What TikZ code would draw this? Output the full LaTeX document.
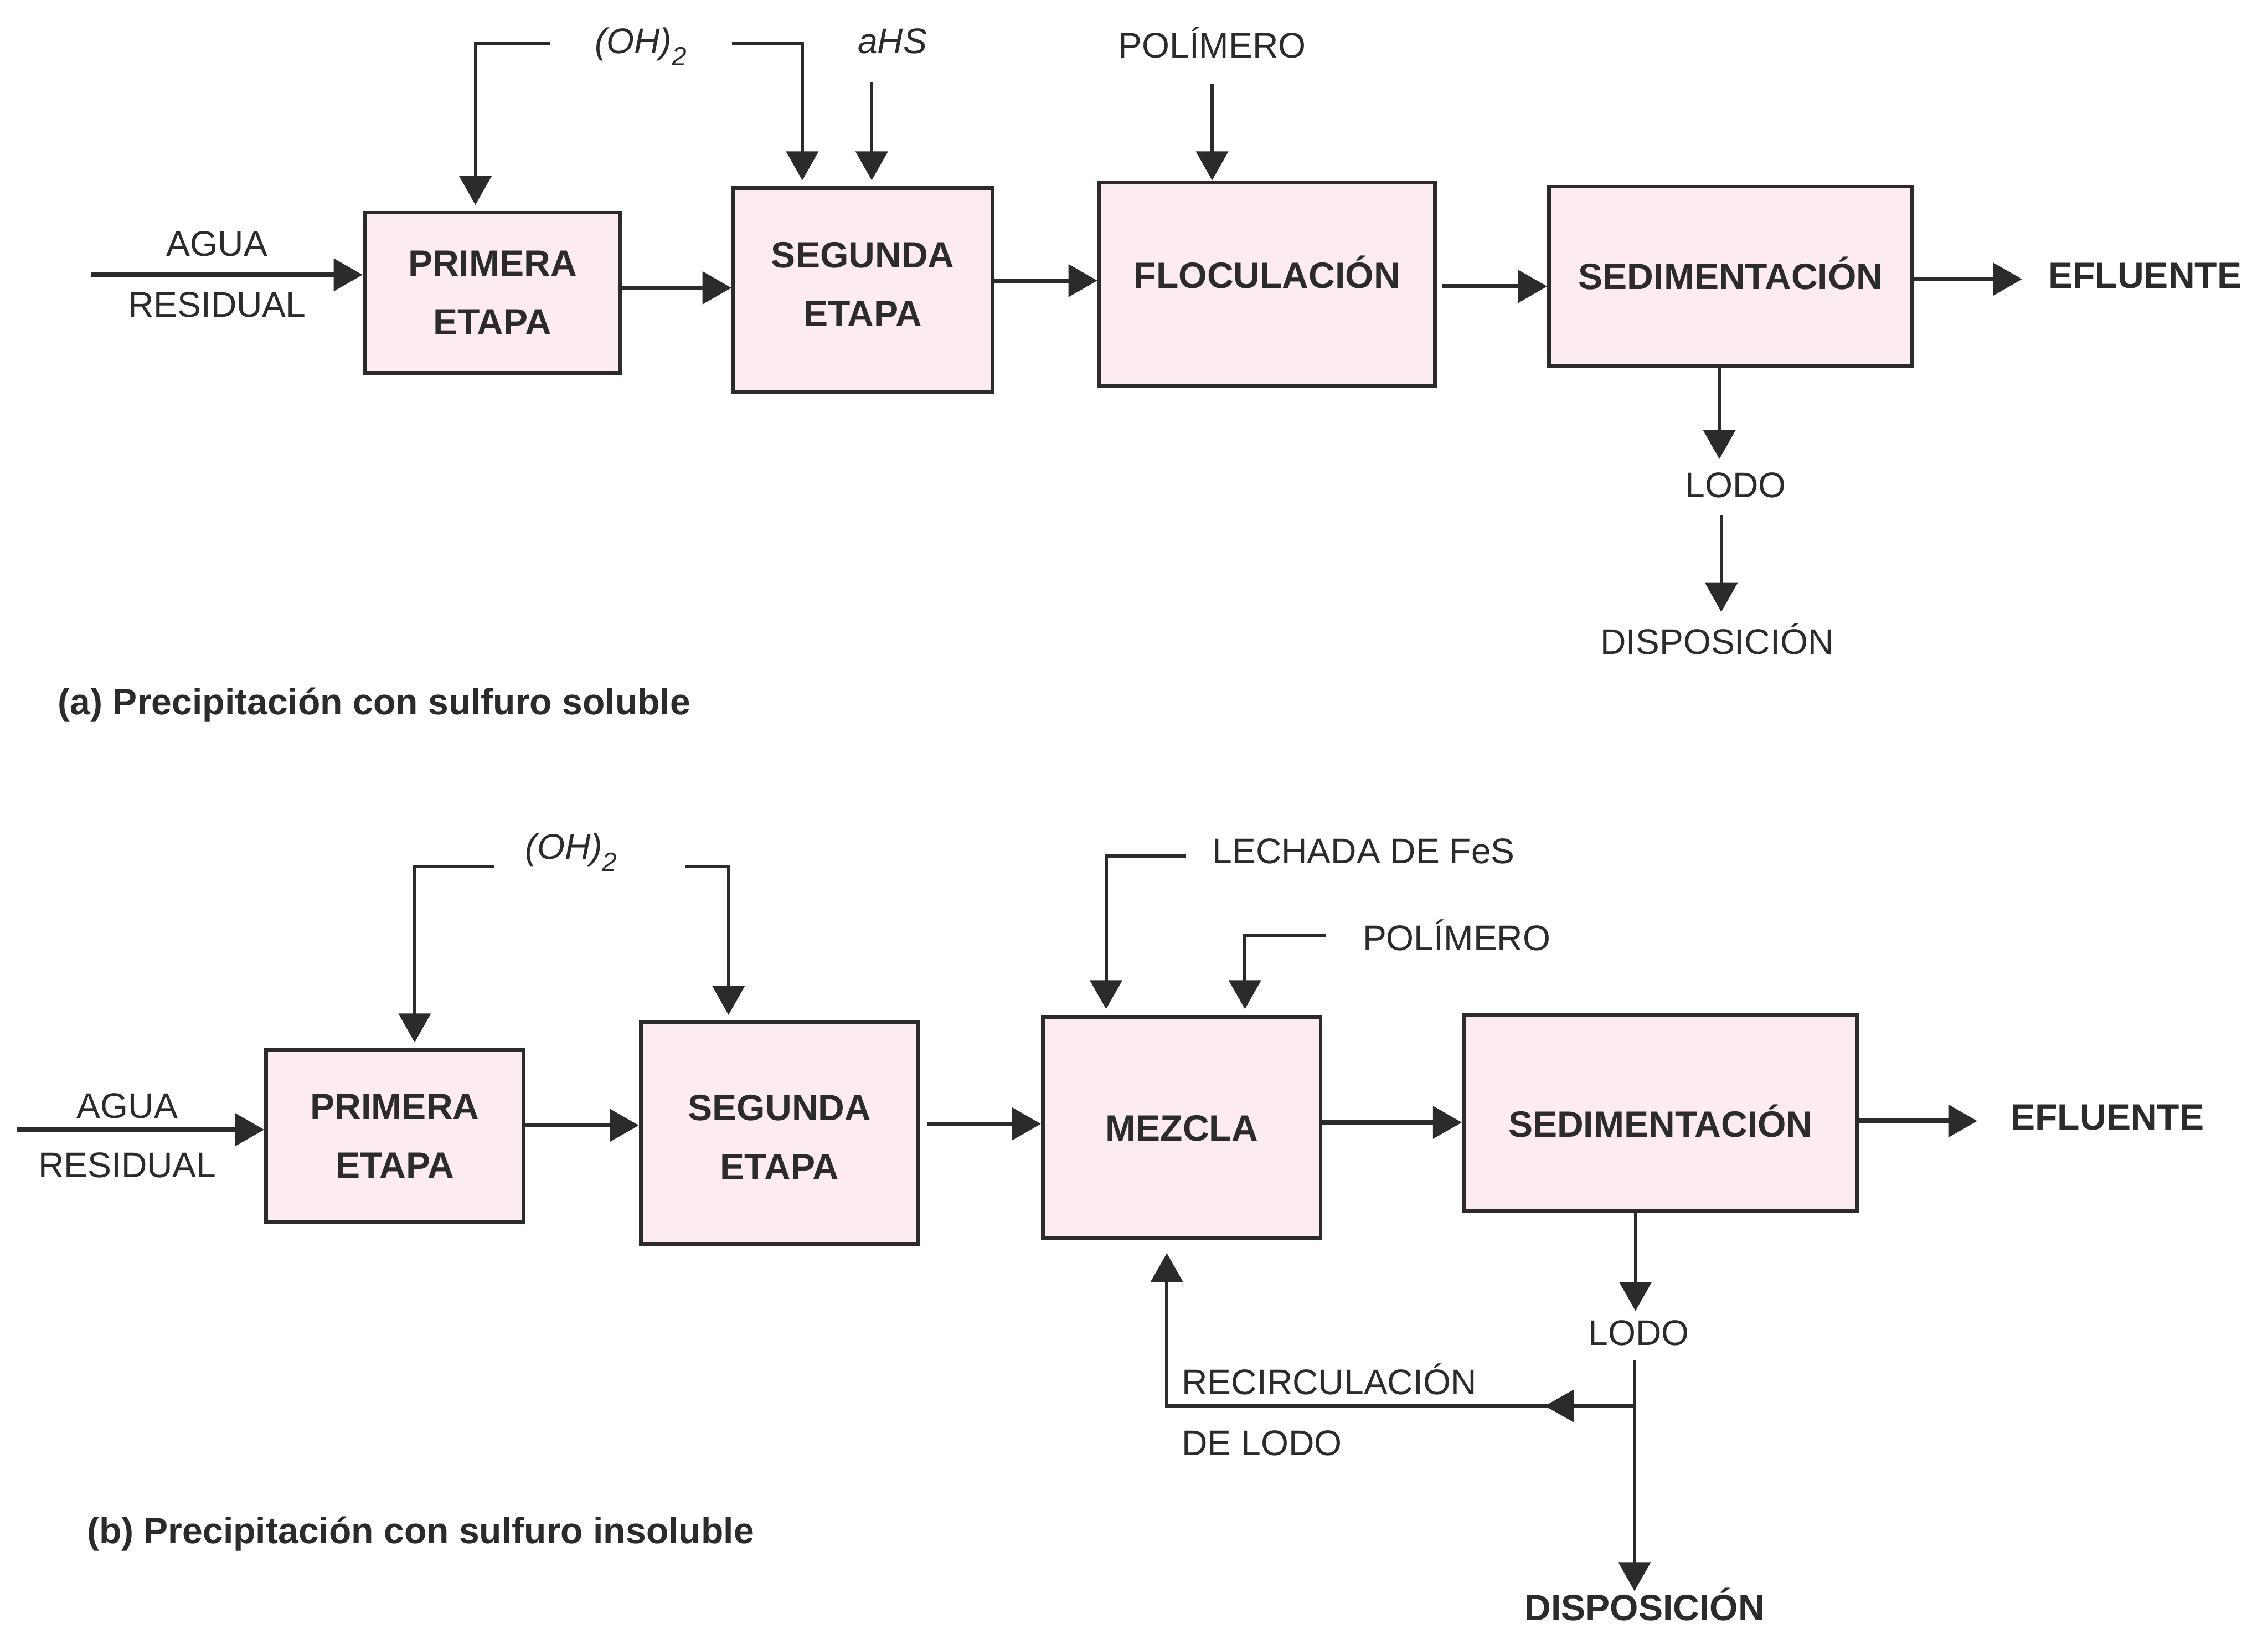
\documentclass[tikz,border=0pt]{standalone}
\usepackage{fontspec}
\setmainfont{Liberation Sans}
\usetikzlibrary{arrows.meta,calc}
\definecolor{ink}{HTML}{2B2B2B}
\definecolor{boxfill}{HTML}{FCECEF}

\begin{document}
\begin{tikzpicture}[x=0.05cm,y=-0.05cm,
  proc/.style={draw=ink, fill=boxfill, line width=3.8pt, inner sep=0pt, text=ink,
    align=center, font=\fontsize{36pt}{58pt}\selectfont\bfseries},
  oneline/.style={text height=0.91cm, text depth=0pt},
  lbl/.style={text=ink, inner sep=0pt, oneline, font=\fontsize{35pt}{42pt}\selectfont},
  blbl/.style={lbl, font=\fontsize{36pt}{42pt}\selectfont\bfseries},
  tip/.style={-{Triangle[length=1cm,width=1.1cm]}},
  flow/.style={draw=ink, line width=4.4pt, tip},
  feed/.style={draw=ink, line width=3.3pt, tip},
]
\fill[white] (0,0) rectangle (1568,1126);
\useasboundingbox (0,0) rectangle (1568,1126);

% ---------- (a) soluble sulphide ----------
\node[proc, minimum width=8.85cm, minimum height=5.55cm] (p1) at (340.5,202.5) {PRIMERA\\ETAPA};
\node[proc, text depth=0.4cm, minimum width=8.95cm, minimum height=7.05cm] (s1) at (596.5,200.5) {SEGUNDA\\ETAPA};
\node[proc, oneline, text depth=0.65cm, minimum width=11.6cm, minimum height=7.05cm] (f1) at (876,196.5) {FLOCULACIÓN};
\node[proc, oneline, minimum width=12.55cm, minimum height=6.2cm] (d1) at (1196.5,191) {SEDIMENTACIÓN};

\node[lbl] (ag1) at (150,168) {AGUA};
\node[lbl] (rs1) at (150,210) {RESIDUAL};
\node[blbl, anchor=west] (ef1) at (1416,190) {EFLUENTE};
\node[lbl, anchor=west] (oh1) at (411,28) {\itshape (OH)\raisebox{-0.42cm}{\fontsize{26pt}{26pt}\selectfont 2}};
\node[lbl] (ahs) at (617,28) {\itshape aHS};
\node[lbl] (pol1) at (838,31) {POLÍMERO};
\node[lbl] (lodo1) at (1200,335) {LODO};
\node[lbl] (disp1) at (1187,443) {DISPOSICIÓN};
\node[blbl, anchor=west] (capa) at (40,485) {(a) Precipitación con sulfuro soluble};

\coordinate (in1) at (63,190);
\draw[flow] (in1) -- (in1 -| p1.west);
\draw[flow] ($(p1.east)+(0,-3.5)$) coordinate (q1) -- (q1 -| s1.west);
\draw[flow] ($(s1.east)+(0,-6.5)$) coordinate (q2) -- (q2 -| f1.west);
\draw[flow] ($(f1.east)+(4,1.5)$) coordinate (q3) -- (q3 -| d1.west);
\draw[flow] ($(d1.east)+(0,2)$) coordinate (q4) -- ($(q4 -| ef1.west)+(-18,0)$);

\draw[feed, shorten >=0.2cm] ($(oh1.west)+(-31,2)$) -| ($(p1.north west)+(78,0)$);
\draw[feed, shorten >=0.2cm] ($(oh1.west)+(95,2)$) -| ($(s1.north west)+(49,0)$);
\draw[feed, shorten >=0.2cm] ($(s1.north west)+(97,-72)$) -- ($(s1.north west)+(97,0)$);
\draw[feed] ($(pol1)+(0,27)$) -- (pol1 |- f1.north);
\draw[feed] ($(d1.south west)+(119,0)$) -- ($(d1.south west)+(119,63)$);
\draw[feed] ($(lodo1)+(-10,21)$) -- ($(lodo1)+(-10,88)$);

% ---------- (b) insoluble sulphide ----------
\node[proc, minimum width=8.9cm, minimum height=5.95cm] (p2) at (273,785.5) {PRIMERA\\ETAPA};
\node[proc, text height=3.2cm, minimum width=9.6cm, minimum height=7.65cm] (s2) at (539,783.5) {SEGUNDA\\ETAPA};
\node[proc, oneline, minimum width=9.6cm, minimum height=7.65cm] (m2) at (817,779.5) {MEZCLA};
\node[proc, oneline, text height=1.66cm, minimum width=13.6cm, minimum height=6.75cm] (d2) at (1148,769.5) {SEDIMENTACIÓN};

\node[lbl] (ag2) at (88,764) {AGUA};
\node[lbl] (rs2) at (88,805) {RESIDUAL};
\node[blbl, anchor=west] (ef2) at (1390,772) {EFLUENTE};
\node[lbl, anchor=west] (oh2) at (363,585) {\itshape (OH)\raisebox{-0.42cm}{\fontsize{26pt}{26pt}\selectfont 2}};
\node[lbl, anchor=west] (lech) at (838,588) {LECHADA DE FeS};
\node[lbl, anchor=west] (pol2) at (942,648) {POLÍMERO};
\node[lbl] (lodo2) at (1133,921) {LODO};
\node[blbl] (disp2) at (1137,1111) {DISPOSICIÓN};
\node[lbl, anchor=west] (rec1) at (817,955) {RECIRCULACIÓN};
\node[lbl, anchor=west] (rec2) at (817,997) {DE LODO};
\node[blbl, anchor=west] (capb) at (60,1058) {(b) Precipitación con sulfuro insoluble};

\coordinate (in2) at (12,781);
\draw[flow] (in2) -- (in2 -| p2.west);
\draw[flow] ($(p2.east)+(0,-7.5)$) coordinate (r1) -- (r1 -| s2.west);
\draw[flow] ($(s2.east)+(5,-6.5)$) coordinate (r2) -- (r2 -| m2.west);
\draw[flow] ($(m2.east)+(0,-3.5)$) coordinate (r3) -- (r3 -| d2.west);
\draw[flow] ($(d2.east)+(0,5.5)$) coordinate (r4) -- ($(r4 -| ef2.west)+(-23,0)$);

\draw[feed, shorten >=0.2cm] ($(oh2.west)+(-21,14)$) -| ($(p2.north west)+(104,0)$);
\draw[feed, shorten >=0.2cm] ($(oh2.west)+(111,14)$) -| ($(s2.north west)+(62,0)$);
\draw[feed, shorten >=0.2cm] ($(lech.west)+(-18,4)$) -| ($(m2.north west)+(45,0)$);
\draw[feed, shorten >=0.2cm] ($(pol2.west)+(-25,-1)$) -| ($(m2.north west)+(141,0)$);

\draw[feed] ($(d2.south west)+(120,0)$) -- ($(d2.south west)+(120,68)$);
\coordinate (br) at (1130,972);
\draw[feed] ($(lodo2)+(-3,19)$) -- ($(disp2)+(-7,-11)$);
\draw[feed] (br) -- ($(br)+(-62,0)$);
\draw[feed, shorten >=0.45cm] (br) -| ($(m2.south west)+(87,0)$);
\end{tikzpicture}
\end{document}
